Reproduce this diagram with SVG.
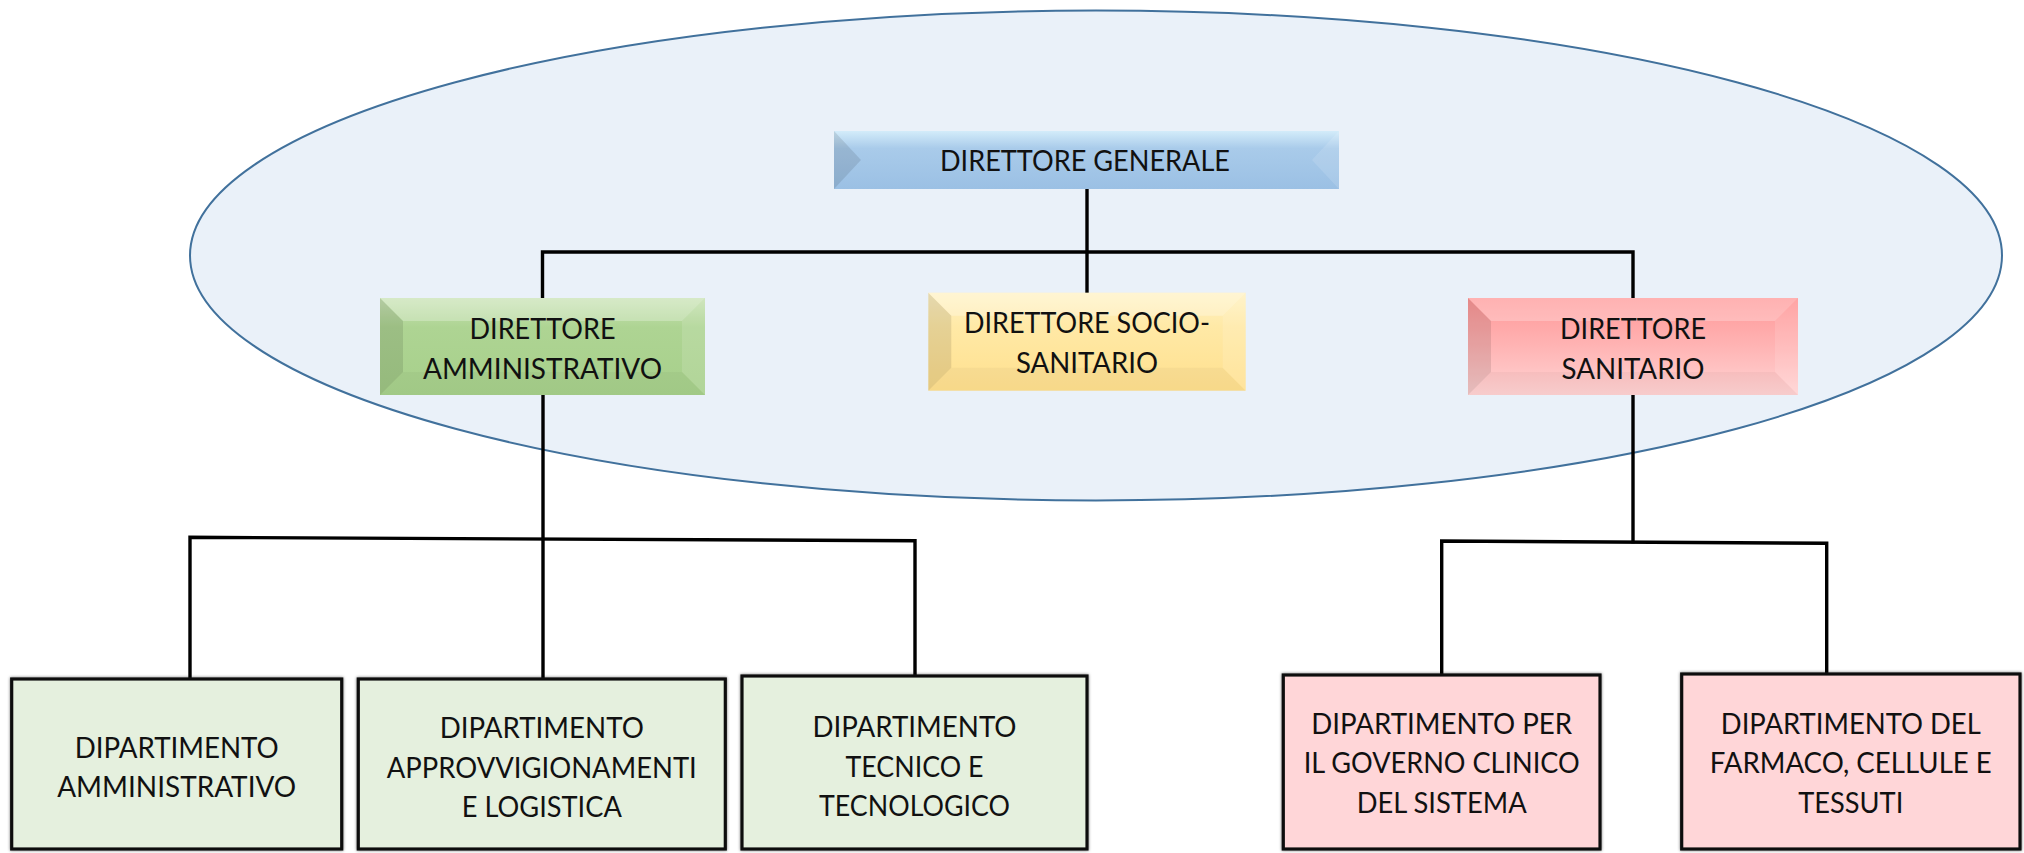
<svg xmlns="http://www.w3.org/2000/svg" width="2024" height="853" viewBox="0 0 2024 853">
<style>
.t{font-family:Lato,'Liberation Sans',sans-serif;font-size:28.5px;text-anchor:middle;fill:#111}
.ln{stroke:#000;stroke-width:3.4;fill:none;stroke-linecap:square}
.dk{fill:#000;fill-opacity:0.1}
.lt{fill:#fff;fill-opacity:0.12}
.hl{fill:#fff;fill-opacity:0.25}
.bt{fill:#000;fill-opacity:0.03}
.bx{stroke:#111;stroke-width:3.2}
.g{fill:#E5F0DE}
.p{fill:#FFD6D8}
</style>
<defs>
<linearGradient id="gB" x1="0" y1="0" x2="0" y2="1"><stop offset="0" stop-color="#D3ECFA"/><stop offset="0.3" stop-color="#A9CBEA"/><stop offset="1" stop-color="#9BC0E4"/></linearGradient>
<linearGradient id="gG" x1="0" y1="0" x2="0" y2="1"><stop offset="0" stop-color="#C9E3B5"/><stop offset="0.3" stop-color="#AED493"/><stop offset="1" stop-color="#A7D08B"/></linearGradient>
<linearGradient id="gY" x1="0" y1="0" x2="0" y2="1"><stop offset="0" stop-color="#FFF2C4"/><stop offset="0.35" stop-color="#FFE9A6"/><stop offset="1" stop-color="#FFE08E"/></linearGradient>
<linearGradient id="gR" x1="0" y1="0" x2="0" y2="1"><stop offset="0" stop-color="#FF9898"/><stop offset="0.5" stop-color="#FFB4B4"/><stop offset="1" stop-color="#FFD3D3"/></linearGradient>
<filter id="sh" x="-5%" y="-5%" width="110%" height="110%"><feDropShadow dx="0" dy="0" stdDeviation="1.6" flood-color="#000" flood-opacity="0.55"/></filter>
</defs>
<rect width="2024" height="853" fill="#fff"/>
<ellipse id="ellipse" cx="1096" cy="255.5" rx="906" ry="245" fill="#EAF1F9" stroke="#41719C" stroke-width="2"/>
<g id="connectors">
<path class="ln" d="M1087 189V293"/>
<path class="ln" d="M542.5 298V252H1633V298"/>
<path class="ln" d="M543 395V679"/>
<path class="ln" d="M190 677V537.3L915 540.8V676"/>
<path class="ln" d="M1633 395V541.7"/>
<path class="ln" d="M1441.7 675V541L1826.7 543.3V674"/>
</g>
<g id="dg">
<rect x="834" y="131" width="505" height="58" fill="url(#gB)"/>
<polygon class="dk" points="834,131 861,160 834,189"/>
<polygon class="lt" points="1339,131 1312,160 1339,189"/>
<text class="t" x="1085" y="171" textLength="290" lengthAdjust="spacingAndGlyphs">DIRETTORE GENERALE</text>
</g>
<g id="da">
<rect x="380" y="298" width="325" height="97" fill="url(#gG)"/>
<polygon class="dk" points="380,298 403,321 403,372 380,395"/>
<polygon class="lt" points="705,298 682,321 682,372 705,395"/>
<polygon class="hl" points="380,298 705,298 682,321 403,321"/>
<polygon class="bt" points="380,395 705,395 682,372 403,372"/>
<text class="t" x="542.5" y="339" textLength="146" lengthAdjust="spacingAndGlyphs">DIRETTORE</text>
<text class="t" x="542.5" y="378.5" textLength="239" lengthAdjust="spacingAndGlyphs">AMMINISTRATIVO</text>
</g>
<g id="dss">
<rect x="928.3" y="292.7" width="317.4" height="98" fill="url(#gY)"/>
<polygon class="dk" points="928.3,292.7 951.3,315.7 951.3,367.7 928.3,390.7"/>
<polygon class="lt" points="1245.7,292.7 1222.7,315.7 1222.7,367.7 1245.7,390.7"/>
<polygon class="hl" points="928.3,292.7 1245.7,292.7 1222.7,315.7 951.3,315.7"/>
<polygon class="bt" points="928.3,390.7 1245.7,390.7 1222.7,367.7 951.3,367.7"/>
<text class="t" x="1087" y="333" textLength="246" lengthAdjust="spacingAndGlyphs">DIRETTORE SOCIO-</text>
<text class="t" x="1087" y="372.7" textLength="142" lengthAdjust="spacingAndGlyphs">SANITARIO</text>
</g>
<g id="ds">
<rect x="1468" y="298" width="330" height="97" fill="url(#gR)"/>
<polygon class="dk" points="1468,298 1491,321 1491,372 1468,395"/>
<polygon class="lt" points="1798,298 1775,321 1775,372 1798,395"/>
<polygon class="hl" points="1468,298 1798,298 1775,321 1491,321"/>
<polygon class="bt" points="1468,395 1798,395 1775,372 1491,372"/>
<text class="t" x="1633" y="339" textLength="146" lengthAdjust="spacingAndGlyphs">DIRETTORE</text>
<text class="t" x="1633" y="378.5" textLength="143" lengthAdjust="spacingAndGlyphs">SANITARIO</text>
</g>
<g id="dip-amm">
<rect class="bx g" x="11.7" y="679" width="330" height="170" filter="url(#sh)"/>
<text class="t" x="176.7" y="758" textLength="204" lengthAdjust="spacingAndGlyphs">DIPARTIMENTO</text>
<text class="t" x="176.7" y="797" textLength="239" lengthAdjust="spacingAndGlyphs">AMMINISTRATIVO</text>
</g>
<g id="dip-appr">
<rect class="bx g" x="358.3" y="679" width="367" height="170" filter="url(#sh)"/>
<text class="t" x="541.8" y="738" textLength="204" lengthAdjust="spacingAndGlyphs">DIPARTIMENTO</text>
<text class="t" x="541.8" y="777.5" textLength="310" lengthAdjust="spacingAndGlyphs">APPROVVIGIONAMENTI</text>
<text class="t" x="541.8" y="817" textLength="160" lengthAdjust="spacingAndGlyphs">E LOGISTICA</text>
</g>
<g id="dip-tec">
<rect class="bx g" x="742" y="676" width="345" height="173" filter="url(#sh)"/>
<text class="t" x="914.5" y="737" textLength="204" lengthAdjust="spacingAndGlyphs">DIPARTIMENTO</text>
<text class="t" x="914.5" y="776.5" textLength="138" lengthAdjust="spacingAndGlyphs">TECNICO E</text>
<text class="t" x="914.5" y="816" textLength="191" lengthAdjust="spacingAndGlyphs">TECNOLOGICO</text>
</g>
<g id="dip-gov">
<rect class="bx p" x="1283.3" y="675" width="316.7" height="174" filter="url(#sh)"/>
<text class="t" x="1441.7" y="733.5" textLength="261" lengthAdjust="spacingAndGlyphs">DIPARTIMENTO PER</text>
<text class="t" x="1441.7" y="773" textLength="276" lengthAdjust="spacingAndGlyphs">IL GOVERNO CLINICO</text>
<text class="t" x="1441.7" y="812.5" textLength="170" lengthAdjust="spacingAndGlyphs">DEL SISTEMA</text>
</g>
<g id="dip-far">
<rect class="bx p" x="1681.7" y="674" width="338.3" height="175" filter="url(#sh)"/>
<text class="t" x="1850.8" y="733.5" textLength="260" lengthAdjust="spacingAndGlyphs">DIPARTIMENTO DEL</text>
<text class="t" x="1850.8" y="773" textLength="282" lengthAdjust="spacingAndGlyphs">FARMACO, CELLULE E</text>
<text class="t" x="1850.8" y="812.5" textLength="105" lengthAdjust="spacingAndGlyphs">TESSUTI</text>
</g>
</svg>
